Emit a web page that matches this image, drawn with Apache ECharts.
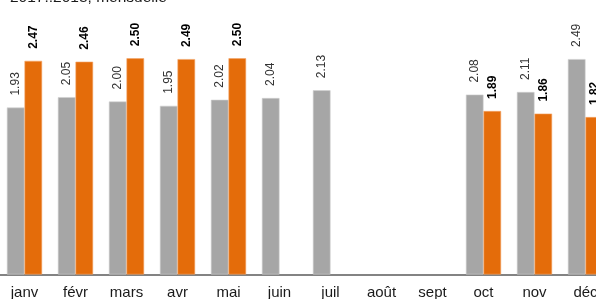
<!DOCTYPE html>
<html>
<head>
<meta charset="utf-8">
<script src="https://cdn.jsdelivr.net/npm/echarts@6/dist/echarts.min.js"></script>
<style>html,body{margin:0;padding:0;background:#fff;}#c{width:596px;height:299px;}</style>
</head>
<body>
<div id="c"></div>
<script>
const categories = ['janv', 'févr', 'mars', 'avr', 'mai', 'juin', 'juil', 'août', 'sept', 'oct', 'nov', 'déc'];
const series2017 = [1.93, 2.05, 2.00, 1.95, 2.02, 2.04, 2.13, null, null, 2.08, 2.11, 2.49];
const series2018 = [2.47, 2.46, 2.50, 2.49, 2.50, null, null, null, null, 1.89, 1.86, 1.82];
const titleText = '2017..2018, mensuelle';

const chart = echarts.init(document.getElementById('c'), null, {renderer: 'canvas'});
const fmt = p => p.value == null ? '' : p.value.toFixed(2);
chart.setOption({
  animation: false,
  title: {
    text: titleText,
    left: 5,
    top: -15,
    textStyle: {fontFamily: 'Liberation Sans, Arial, sans-serif', fontSize: 15.5, fontWeight: 'normal', color: '#1a1a1a'}
  },
  grid: {left: -1, width: 612, top: 15, height: 259.5, outerBoundsMode: 'none', containLabel: false},
  xAxis: {
    type: 'category',
    data: categories,
    axisLine: {show: true, lineStyle: {color: '#5a5a5a', width: 1.5}},
    axisTick: {show: false},
    axisLabel: {fontFamily: 'Liberation Sans, Arial, sans-serif', fontSize: 15, color: '#1a1a1a', margin: 11, interval: 0},
    splitLine: {show: false}
  },
  yAxis: {
    type: 'value', min: 0, max: 3, show: false, splitLine: {show: false}
  },
  series: [
    {
      type: 'bar', data: series2017, barGap: '0%', barCategoryGap: '31%',
      itemStyle: {color: '#a6a6a6', borderColor: '#d0d0d0', borderWidth: 0.6},
      label: {show: true, position: 'top', rotate: 90, align: 'left', verticalAlign: 'middle', distance: 12,
        formatter: fmt, fontFamily: 'Liberation Sans, Arial, sans-serif', fontSize: 12, color: '#333'}
    },
    {
      type: 'bar', data: series2018,
      itemStyle: {color: '#e46c0a', borderColor: '#f3a66a', borderWidth: 0.6},
      label: {show: true, position: 'top', rotate: 90, align: 'left', verticalAlign: 'middle', distance: 12,
        formatter: fmt, fontFamily: 'Liberation Sans, Arial, sans-serif', fontSize: 12, fontWeight: 'bold', color: '#000'}
    }
  ]
});
</script>
</body>
</html>
